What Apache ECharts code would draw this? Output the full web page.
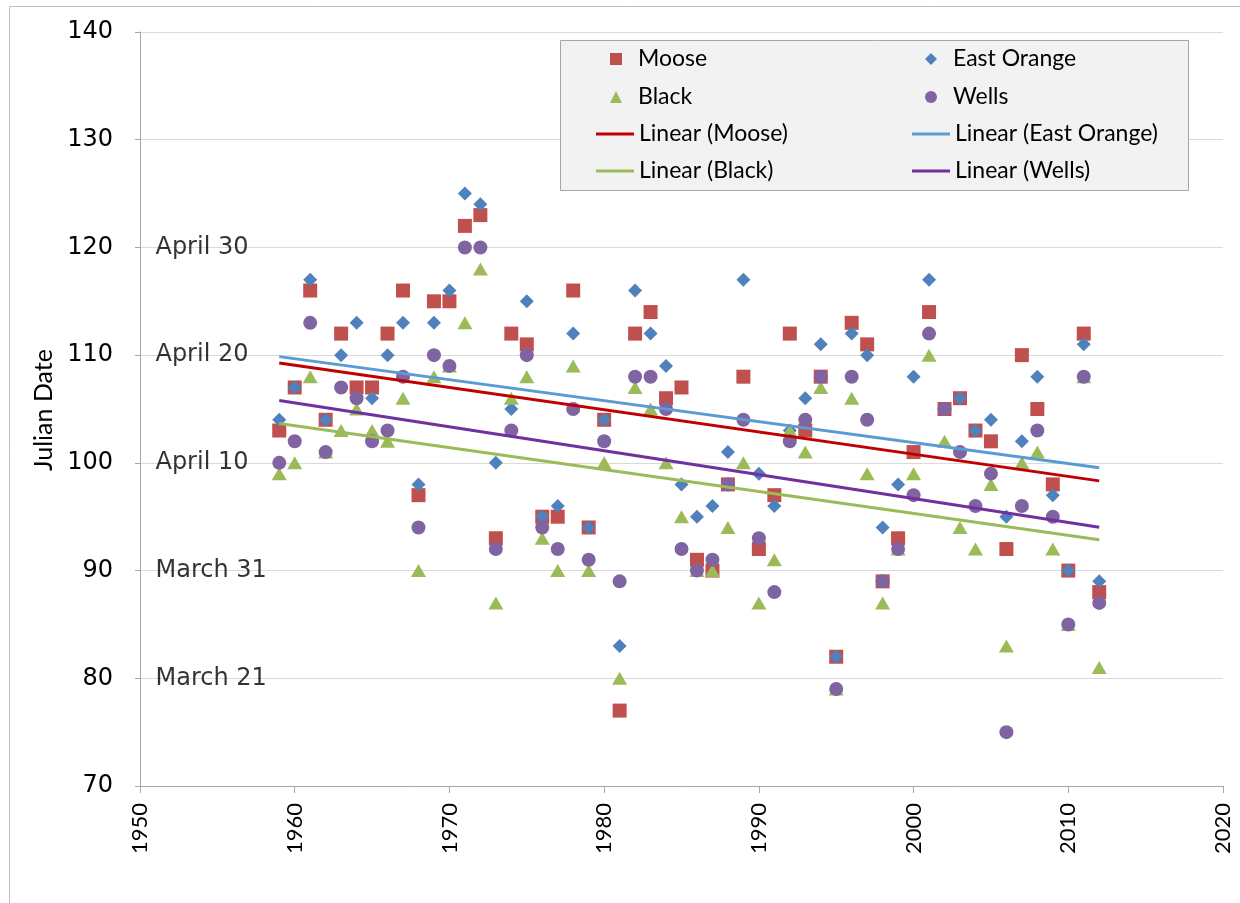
<!DOCTYPE html>
<html>
<head>
<meta charset="utf-8">
<script src="https://cdn.jsdelivr.net/npm/echarts@6/dist/echarts.min.js"></script>
<style>
html,body{margin:0;padding:0;background:#fff;}
#chart{width:1240px;height:903px;}
</style>
</head>
<body>
<div id="chart"></div>
<script>
const years = [1959,1960,1961,1962,1963,1964,1965,1966,1967,1968,1969,1970,1971,1972,1973,1974,1975,1976,1977,1978,1979,1980,1981,1982,1983,1984,1985,1986,1987,1988,1989,1990,1991,1992,1993,1994,1995,1996,1997,1998,1999,2000,2001,2002,2003,2004,2005,2006,2007,2008,2009,2010,2011,2012];
const moose = [103,107,116,104,112,107,107,112,116,97,115,115,122,123,93,112,111,95,95,116,94,104,77,112,114,106,107,91,90,98,108,92,97,112,103,108,82,113,111,89,93,101,114,105,106,103,102,92,110,105,98,90,112,88];
const eastOrange = [104,107,117,104,110,113,106,110,113,98,113,116,125,124,100,105,115,95,96,112,94,104,83,116,112,109,98,95,96,101,117,99,96,103,106,111,82,112,110,94,98,108,117,105,106,103,104,95,102,108,97,90,111,89];
const black = [99,100,108,101,103,105,103,102,106,90,108,109,113,118,87,106,108,93,90,109,90,100,80,107,105,100,95,90,90,94,100,87,91,103,101,107,79,106,99,87,92,99,110,102,94,92,98,83,100,101,92,85,108,81];
const wells = [100,102,113,101,107,106,102,103,108,94,110,109,120,120,92,103,110,94,92,105,91,102,89,108,108,105,92,90,91,98,104,93,88,102,104,108,79,108,104,89,92,97,112,105,101,96,99,75,96,103,95,85,108,87];
const dateLabels = ['April 30','April 20','April 10','March 31','March 21'];
const dateValues = [120,110,100,90,80];
const yTicks = [70,80,90,100,110,120,130,140];
const xTicks = [1950,1960,1970,1980,1990,2000,2010,2020];

function pairs(vals){ return years.map((y,i)=>[y,vals[i]]); }
function trend(vals){
  const n = years.length;
  let sx=0,sy=0,sxx=0,sxy=0;
  for(let i=0;i<n;i++){sx+=years[i];sy+=vals[i];sxx+=years[i]*years[i];sxy+=years[i]*vals[i];}
  const b=(n*sxy-sx*sy)/(n*sxx-sx*sx);
  const a=(sy-b*sx)/n;
  const x0=years[0], x1=years[n-1];
  return [[x0,a+b*x0],[x1,a+b*x1]];
}

const chart = echarts.init(document.getElementById('chart'));
const legTxt = {fontFamily:'Lato', fontSize:23, color:'#000', lineHeight:24};
const legTxtPad = {fontFamily:'Lato', fontSize:23, color:'#000', lineHeight:24, padding:[0,0,0,11]};
const option = {
  animation:false,
  backgroundColor:'#fff',
  grid:{left:140, right:17, top:32, bottom:117, containLabel:false},
  xAxis:{
    type:'value', min:xTicks[0], max:xTicks[xTicks.length-1], interval:10,
    axisLine:{show:true, lineStyle:{color:'#a6a6a6', width:1}},
    axisTick:{show:true, length:7, lineStyle:{color:'#a6a6a6'}},
    splitLine:{show:false},
    axisLabel:{rotate:90, margin:17, fontFamily:'Lato', fontSize:22, color:'#000', formatter:(v)=>String(v)}
  },
  yAxis:{
    type:'value', min:yTicks[0], max:yTicks[yTicks.length-1], interval:10,
    axisLine:{show:true, lineStyle:{color:'#a6a6a6', width:1}},
    axisTick:{show:true, length:5, lineStyle:{color:'#a6a6a6'}},
    splitLine:{show:true, lineStyle:{color:'#d9d9d9', width:1}},
    axisLabel:{margin:27, fontFamily:'DejaVu Sans', fontSize:24, color:'#000'}
  },
  legend:[
    {left:605, top:42, orient:'vertical', itemWidth:12, itemHeight:12, itemGap:14,
     data:['Moose','Black'], textStyle:legTxtPad, z:20, selectedMode:false},
    {left:591, top:117, orient:'vertical', itemWidth:38, itemHeight:3, itemGap:13, icon:'rect',
     data:['Linear (Moose)','Linear (Black)'], textStyle:legTxt, z:20, selectedMode:false},
    {left:920, top:42, orient:'vertical', itemWidth:12, itemHeight:12, itemGap:14,
     data:['East Orange','Wells'], textStyle:legTxtPad, z:20, selectedMode:false},
    {left:907, top:117, orient:'vertical', itemWidth:38, itemHeight:3, itemGap:13, icon:'rect',
     data:['Linear (East Orange)','Linear (Wells)'], textStyle:legTxt, z:20, selectedMode:false}
  ],
  graphic:[
    {type:'rect', left:7, top:4, z:-10, silent:true, shape:{width:1240, height:905}, style:{fill:'none', stroke:'#bfbfbf', lineWidth:1}},
    {type:'rect', left:560, top:40, z:15, silent:true, shape:{width:628, height:150}, style:{fill:'#f2f2f2', stroke:'#a6a6a6', lineWidth:1}},
    {type:'text', x:44, y:410, rotation:Math.PI/2, z:10, silent:true,
     style:{text:'Julian Date', font:'25px Lato', fill:'#000', align:'center', verticalAlign:'middle'}}
  ],
  series:[
    {name:'Moose', type:'scatter', symbol:'rect', symbolSize:14, itemStyle:{color:'#c0504d', opacity:1}, data:pairs(moose)},
    {name:'East Orange', type:'scatter', symbol:'diamond', symbolSize:14, itemStyle:{color:'#4f81bd', opacity:1}, data:pairs(eastOrange)},
    {name:'Black', type:'scatter', symbol:'triangle', symbolSize:[15,13], itemStyle:{color:'#9bbb59', opacity:1}, data:pairs(black)},
    {name:'Wells', type:'scatter', symbol:'circle', symbolSize:14, itemStyle:{color:'#8064a2', opacity:1}, data:pairs(wells)},
    {name:'Linear (Moose)', type:'line', symbol:'none', lineStyle:{color:'#c00000', width:3}, itemStyle:{color:'#c00000'}, data:trend(moose), z:5},
    {name:'Linear (East Orange)', type:'line', symbol:'none', lineStyle:{color:'#5b9bd5', width:3}, itemStyle:{color:'#5b9bd5'}, data:trend(eastOrange), z:5},
    {name:'Linear (Black)', type:'line', symbol:'none', lineStyle:{color:'#9bbb59', width:3}, itemStyle:{color:'#9bbb59'}, data:trend(black), z:5},
    {name:'Linear (Wells)', type:'line', symbol:'none', lineStyle:{color:'#7030a0', width:3}, itemStyle:{color:'#7030a0'}, data:trend(wells), z:5},
    {name:'dates', type:'scatter', symbolSize:0, silent:true, z:6,
     label:{show:true, position:'right', distance:0, formatter:(p)=>p.data[2], fontFamily:'DejaVu Sans', fontSize:24, color:'#000'},
     data:dateLabels.map((t,i)=>[1951.0, dateValues[i], t])}
  ]
};
chart.setOption(option);
</script>
</body>
</html>
